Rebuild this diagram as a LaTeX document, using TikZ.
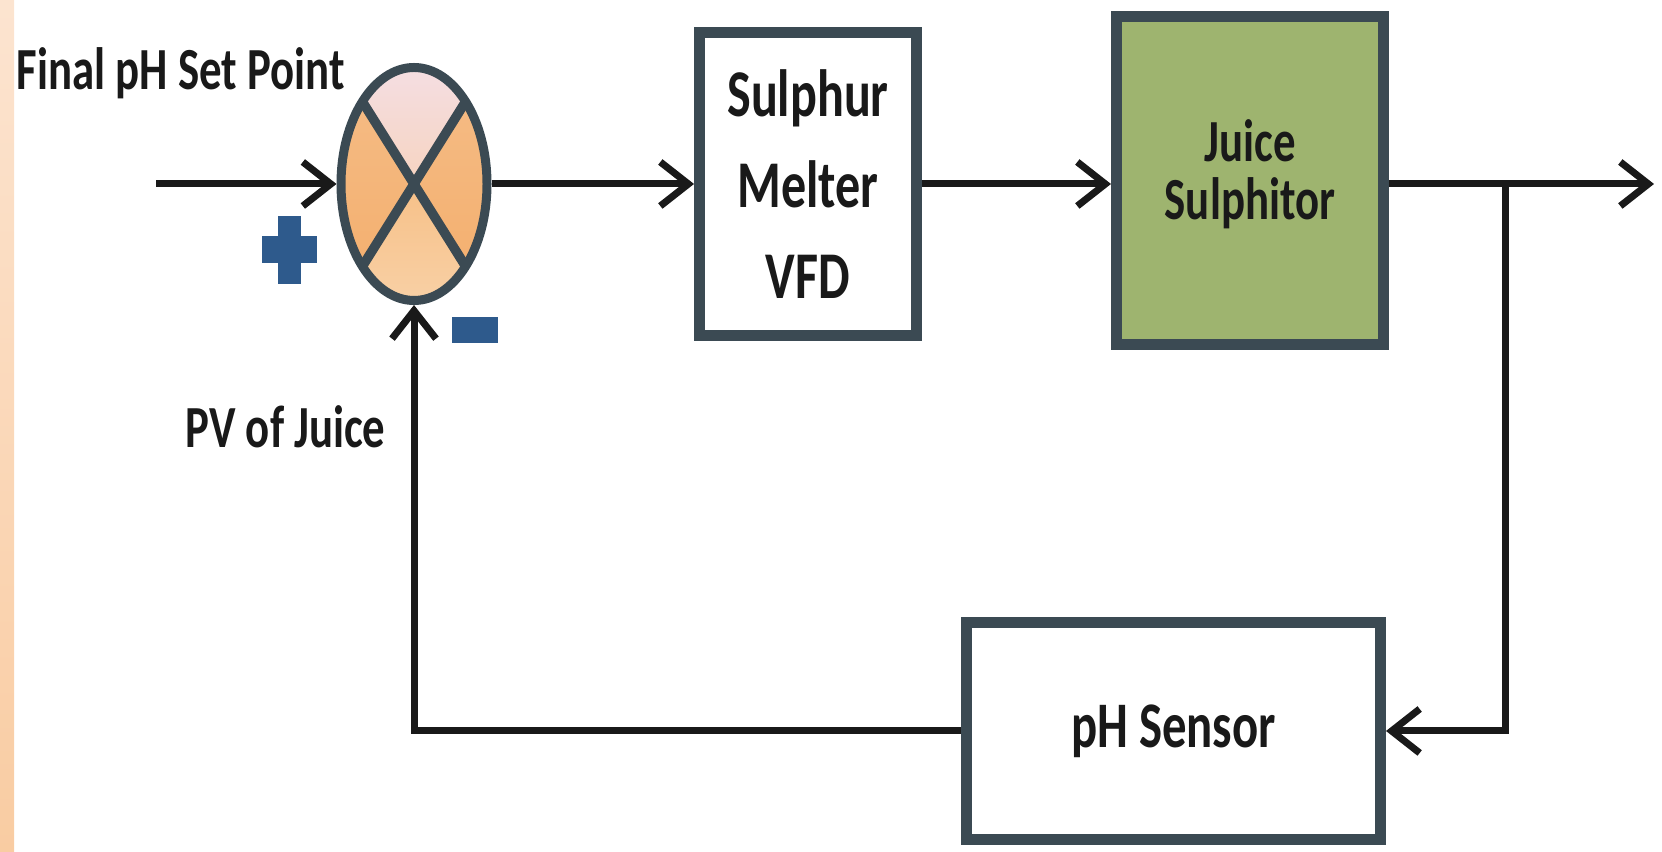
\documentclass[tikz,border=0pt]{standalone}
\usepackage{xcolor}
\usepackage{fontspec}
\setmainfont{Carlito}[FakeStretch=0.75]
\usepackage{tikz}
\usetikzlibrary{shapes.geometric,arrows.meta,positioning,calc}
\definecolor{boxline}{HTML}{3B4A53}
\definecolor{olive}{HTML}{9EB46F}
\definecolor{signblue}{HTML}{2E5A8C}
\definecolor{peachtop}{HTML}{FCE4D0}
\definecolor{peachbot}{HTML}{F9CCA2}
\definecolor{junctop}{HTML}{F5DEE2}
\definecolor{juncside}{HTML}{F1A053}
\definecolor{juncbot}{HTML}{F7C48E}

\begin{document}
\begin{tikzpicture}[
  blk/.style={draw=boxline, line width=0.11cm, align=center, inner sep=0pt,
    font=\bfseries\fontsize{19}{26}\selectfont, text=black!90},
  junc/.style={ellipse, draw=boxline, line width=0.09cm, minimum width=1.46cm,
    minimum height=2.33cm, inner sep=0pt,
    top color=juncside!70!white, middle color=juncside, bottom color=juncside!85!white,
    path picture={
      \shade[top color=junctop, bottom color=juncbot!80!junctop]
        (path picture bounding box.north west) -- (path picture bounding box.center)
        -- (path picture bounding box.north east) -- cycle;
      \shade[top color=juncbot!90!juncside, bottom color=juncbot!80!white]
        (path picture bounding box.south west) -- (path picture bounding box.center)
        -- (path picture bounding box.south east) -- cycle;
      \draw[boxline, line width=0.095cm]
        (path picture bounding box.north west) -- (path picture bounding box.south east)
        (path picture bounding box.north east) -- (path picture bounding box.south west);
    }},
  lbl/.style={font=\bfseries\fontsize{17}{20}\selectfont, text=black!90, inner sep=0pt},
  signbar/.style={fill=signblue, inner sep=0pt},
  flow/.style={line width=0.07cm, black!90},
  >={Straight Barb[length=0.28cm,width=0.44cm]}
]
\useasboundingbox (0,0) rectangle (16.62,8.52);
\shade[top color=peachtop, bottom color=peachbot] (0,0) rectangle (0.14,8.52);

\node[junc] (sum) at (4.14,6.68) {};
\node[blk, fill=white, minimum width=2.17cm, minimum height=3.03cm] (melter) at (8.08,6.68)
  {Sulphur\\Melter\\VFD};
\node[blk, fill=olive, minimum width=2.67cm, minimum height=3.28cm,
  font=\bfseries\fontsize{17}{16.5}\selectfont] (sulphitor) at (12.50,6.715)
  {Juice\\Sulphitor\\[-10.5pt]};
\node[blk, fill=white, minimum width=4.14cm, minimum height=2.17cm,
  font=\bfseries\fontsize{18.5}{22}\selectfont] (sensor) at (11.735,1.21) {pH Sensor};

% signs next to the summing point
\node[signbar, minimum width=0.55cm, minimum height=0.27cm] (plush) at (2.89,6.02) {};
\node[signbar, minimum width=0.23cm, minimum height=0.68cm] (plusv) at (plush) {};
\node[signbar, minimum width=0.46cm, minimum height=0.26cm] (minus) at (4.75,5.22) {};

\node[lbl, anchor=base west] (setpt) at (0.16,7.62) {Final pH Set Point};
\node[lbl, anchor=base west] (pv) at (1.85,4.04) {PV of Juice};

\coordinate (setin) at (1.56,6.68);
\coordinate (out) at (16.54,6.68);
\coordinate (tap) at (15.05,6.68);

\draw[flow,->] (setin) -- (sum.west);
\draw[flow,->] (sum.east) -- (melter.west);
\draw[flow,->] (melter.east) -- (melter.east -| sulphitor.west);
\draw[flow,->] (melter.east -| sulphitor.east) -- (out);
\draw[flow,->] (tap) |- (sensor.east);
\draw[flow,->] (sensor.west) -| (sum.south);
\end{tikzpicture}
\end{document}
